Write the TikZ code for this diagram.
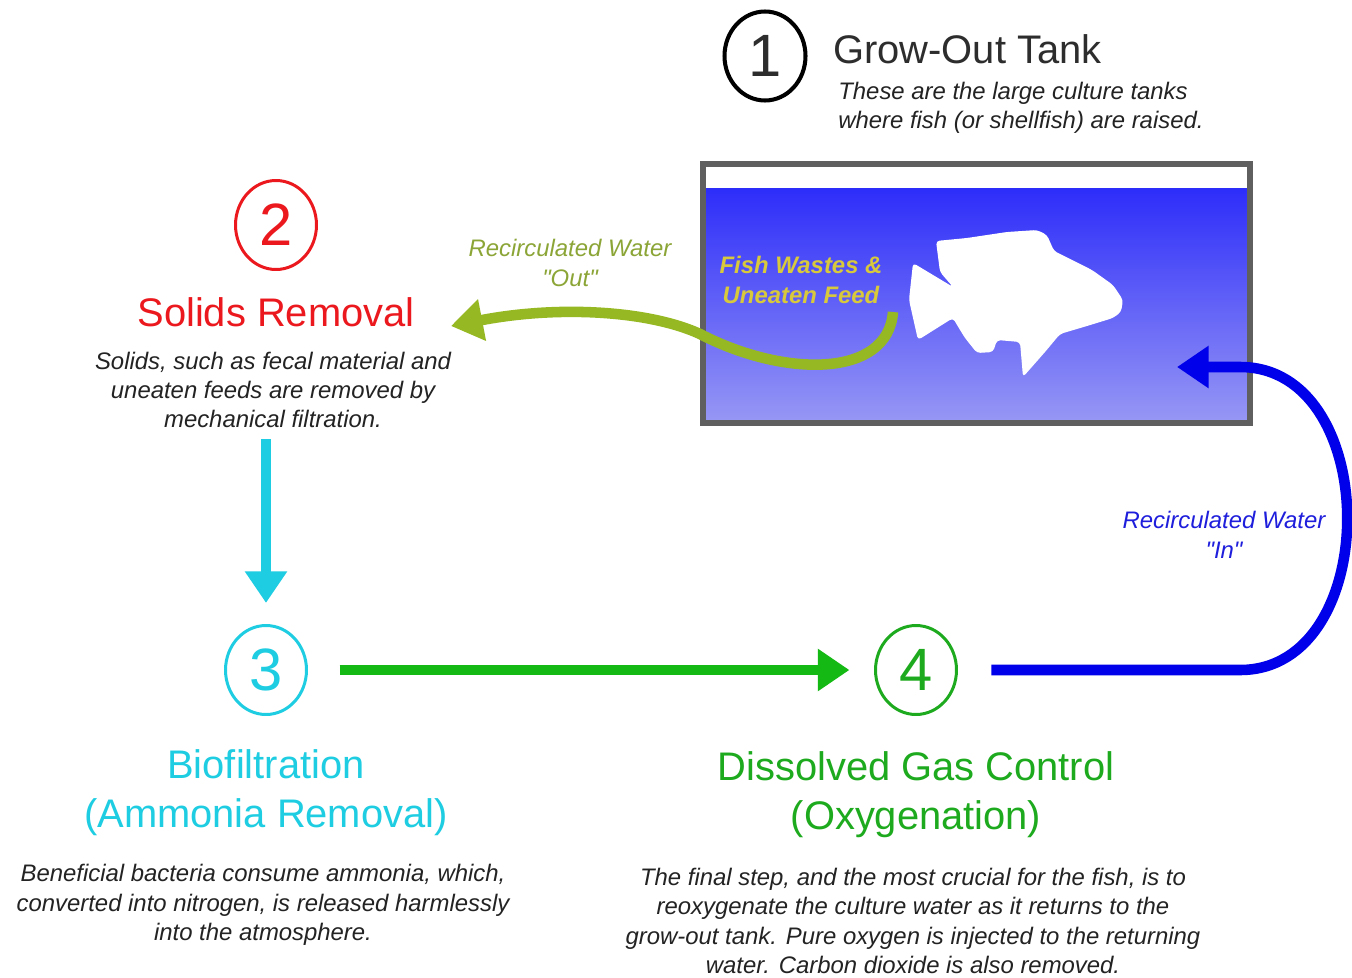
\documentclass[tikz,border=0pt]{standalone}
\usepackage{fontspec}
\setmainfont{Liberation Sans}
\usetikzlibrary{arrows.meta, shapes.geometric, positioning}

\definecolor{txtgray}{RGB}{35,35,35}
\definecolor{titlegray}{RGB}{45,45,45}
\definecolor{solred}{RGB}{235,25,30}
\definecolor{biocyan}{RGB}{30,205,225}
\definecolor{gasgreen}{RGB}{30,170,30}
\definecolor{arrgreen}{RGB}{20,185,20}
\definecolor{loopblue}{RGB}{0,0,235}
\definecolor{inblue}{RGB}{30,30,220}
\definecolor{outolive}{RGB}{150,185,35}
\definecolor{outtext}{RGB}{140,165,55}
\definecolor{wastegold}{RGB}{215,200,60}
\definecolor{watertop}{RGB}{45,45,250}
\definecolor{waterbot}{RGB}{150,150,245}
\definecolor{tankgray}{RGB}{95,95,95}

\begin{document}
\begin{tikzpicture}[x=0.02cm, y=-0.02cm]
    \tikzstyle{num}=[ellipse, draw, line width=1.7pt, minimum width=1.62cm, minimum height=1.78cm, inner sep=0pt, font=\fontsize{34}{34}\selectfont]
    \tikzstyle{ttl}=[inner sep=0pt, align=center, font=\fontsize{22.7}{27.8}\selectfont]
    \tikzstyle{dsc}=[inner sep=0pt, align=center, text=txtgray, font=\fontsize{13.6}{16.7}\selectfont\itshape]
    \tikzstyle{e}=[line width=6pt, -{Triangle[length=18pt,width=23pt]}]

    \useasboundingbox (0,0) rectangle (1352,977);
    \fill[white] (0,0) rectangle (1352,977);

    % 1: grow-out tank
    \node[num, line width=2.3pt, text=titlegray] (c1) at (765,56) {1};
    \node[ttl, anchor=west, text=titlegray] (t1) at (833,49) {Grow-Out Tank};
    \node[dsc, anchor=west, align=left] (d1) at (838,108) {These are the large culture tanks\\where fish (or shellfish) are raised.};

    \fill[white] (703,164) rectangle (1250,423);
    \shade[top color=watertop, bottom color=waterbot] (706,188) rectangle (1247,420);
    \fill[white, rounded corners=2pt] (913,263) -- (953,287) -- (940,272) -- (936,241) -- (967,238)
        -- (1007,232) -- (1037,230) -- (1047,235) -- (1054,251) -- (1072,260) -- (1092,270)
        -- (1113,285) -- (1123,300) -- (1121,312) -- (1113,318) -- (1087,326) -- (1060,334)
        -- (1045,352) -- (1023,377) -- (1020,342) -- (997,340) -- (993,352) -- (977,353)
        -- (965,338) -- (957,325) -- (953,318) -- (918,340) -- (909,300) -- cycle;
    \draw[tankgray, line width=3.4pt] (703,164) rectangle (1250,423);
    \node[inner sep=0pt, align=center, text=wastegold, font=\fontsize{13.6}{17}\selectfont\bfseries\itshape] (fw) at (801,280) {Fish Wastes \&\\Uneaten Feed};

    % 2: solids removal
    \node[num, draw=solred, text=solred] (c2) at (276,225) {2};
    \node[ttl, text=solred] (t2) at (276,312) {Solids Removal};
    \node[dsc] (d2) at (273,390) {Solids, such as fecal material and\\uneaten feeds are removed by\\mechanical filtration.};

    % 3: biofiltration
    \node[num, draw=biocyan, text=biocyan] (c3) at (266,670) {3};
    \node[ttl, text=biocyan] (t3) at (266,793) {Biofiltration\\(Ammonia Removal)};
    \node[dsc] (d3) at (263,905) {Beneficial bacteria consume ammonia, which,\\converted into nitrogen, is released harmlessly\\into the atmosphere.};

    % 4: dissolved gas control
    \node[num, draw=gasgreen, text=gasgreen] (c4) at (916,670) {4};
    \node[ttl, text=gasgreen] (t4) at (916,795) {Dissolved Gas Control\\(Oxygenation)};
    \node[dsc] (d4) at (913,921) {The final step, and the most crucial for the fish, is to\\reoxygenate the culture water as it returns to the\\grow-out tank. Pure oxygen is injected to the returning\\water. Carbon dioxide is also removed.};

    % water loop
    \node[dsc, text=outtext] (lout) at (570,263) {Recirculated Water\\\textquotedbl Out\textquotedbl};
    \node[dsc, text=inblue] (lin) at (1224,535) {Recirculated Water\\\textquotedbl In\textquotedbl};

    \coordinate (wst) at (893,312);
    \coordinate (out) at (451,326);
    \coordinate (in) at (1177,367);

    \draw[e, outolive] (wst) .. controls (888,378) and (785,378) .. (700,334) .. controls (650,311) and (560,305) .. (out);
    \draw[e, biocyan, shorten <=6pt, shorten >=12pt] (c3 |- d2.south) -- (c3);
    \draw[e, arrgreen, shorten <=18pt, shorten >=14pt] (c3) -- (c4);
    \draw[e, loopblue, shorten <=19pt] (c4) -- (1240,670) .. controls (1383,670) and (1383,367) .. (1240,367) -- (in);

\end{tikzpicture}
\end{document}
